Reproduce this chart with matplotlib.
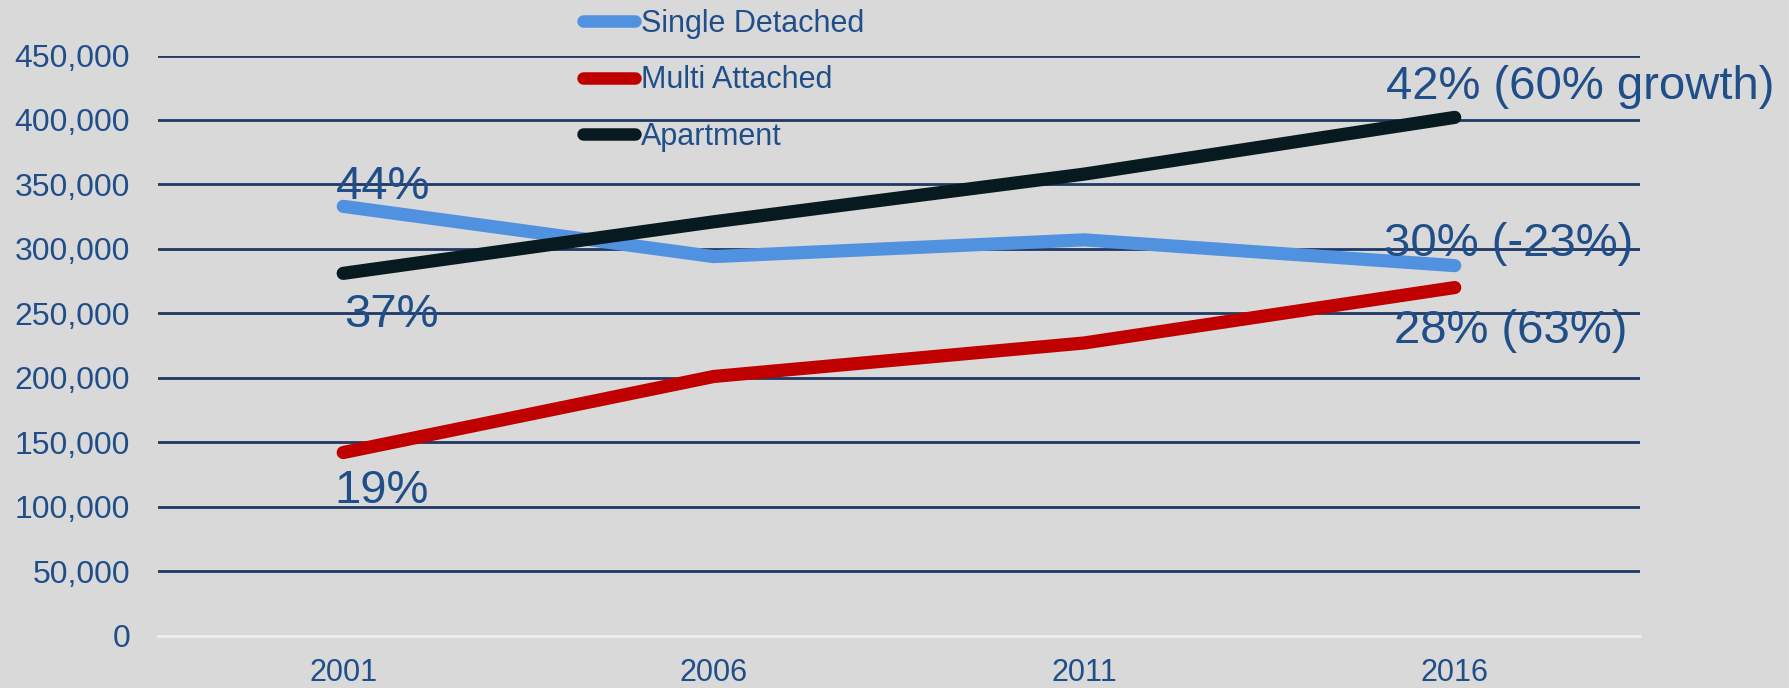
import matplotlib
matplotlib.use('Agg')
import matplotlib.pyplot as plt
from matplotlib.ticker import FuncFormatter

# data
years = ['2001', '2006', '2011', '2016']
single_detached = [333000, 294000, 307000, 287000]
multi_attached = [142000, 201000, 227000, 270000]
apartment = [281000, 321000, 358000, 402000]

# share annotations at first/last points
single_labels = ['44%', '30% (-23%)']
multi_labels = ['19%', '28% (63%)']
apartment_labels = ['37%', '42% (60% growth)']

text_color = '#1F4E89'
grid_color = '#1F3864'
bg = '#D9D9D9'

plt.rcParams['font.family'] = ['Liberation Sans', 'DejaVu Sans']

fig = plt.figure(figsize=(17.89, 6.88), dpi=100, facecolor=bg)
ax = fig.add_axes([0.0883, 0.0762, 0.8284, 0.8431])
ax.set_facecolor(bg)

x = list(range(len(years)))
ax.plot(x, single_detached, color='#5192E0', lw=9.5, solid_capstyle='round',
        label='Single Detached', zorder=3)
ax.plot(x, multi_attached, color='#C00000', lw=9.5, solid_capstyle='round',
        label='Multi Attached', zorder=3)
ax.plot(x, apartment, color='#061A1F', lw=9.5, solid_capstyle='round',
        label='Apartment', zorder=3)

ax.set_xlim(-0.5, len(years) - 0.5)
ax.set_ylim(0, 450000)
ax.set_yticks(range(0, 450001, 50000))
ax.yaxis.set_major_formatter(FuncFormatter(lambda v, p: f'{int(v):,}'))
ax.set_xticks(x)
ax.set_xticklabels(years)
ax.tick_params(axis='y', length=0, pad=20, labelsize=23, labelcolor=text_color)
ax.tick_params(axis='x', length=0, pad=16, labelsize=22, labelcolor=text_color)

ax.yaxis.grid(True, color=grid_color, lw=2)
ax.get_ygridlines()[0].set_visible(False)
ax.set_axisbelow(True)
for s in ['top', 'left', 'right']:
    ax.spines[s].set_visible(False)
ax.spines['bottom'].set_color('#EDEDED')
ax.spines['bottom'].set_linewidth(2)

# annotations: (label, series, index, dx, dy) offsets in pixels
notes = [
    (single_labels[0], single_detached, 0, -7, 7),
    (apartment_labels[0], apartment, 0, 1, -54),
    (multi_labels[0], multi_attached, 0, -9, -50),
    (apartment_labels[1], apartment, 3, -69, 18),
    (single_labels[1], single_detached, 3, -71, 10),
    (multi_labels[1], multi_attached, 3, -61, -55),
]
for txt, series, i, dx, dy in notes:
    ax.annotate(txt, xy=(x[i], series[i]), xytext=(dx, dy), textcoords='offset pixels',
                ha='left', va='baseline', fontsize=34, color=text_color, zorder=4,
                annotation_clip=False)

leg = ax.legend(loc='upper left', bbox_to_anchor=(583 / 1789, 1 - 9 / 688),
                bbox_transform=fig.transFigure, frameon=False, fontsize=22,
                handlelength=1.7, handletextpad=0.2, labelspacing=0.86, borderpad=0,
                borderaxespad=0)
for t in leg.get_texts():
    t.set_color(text_color)
for h in leg.get_lines():
    h.set_linewidth(9)
    h.set_solid_capstyle('round')

fig.savefig('out.png', dpi=100, facecolor=bg)
